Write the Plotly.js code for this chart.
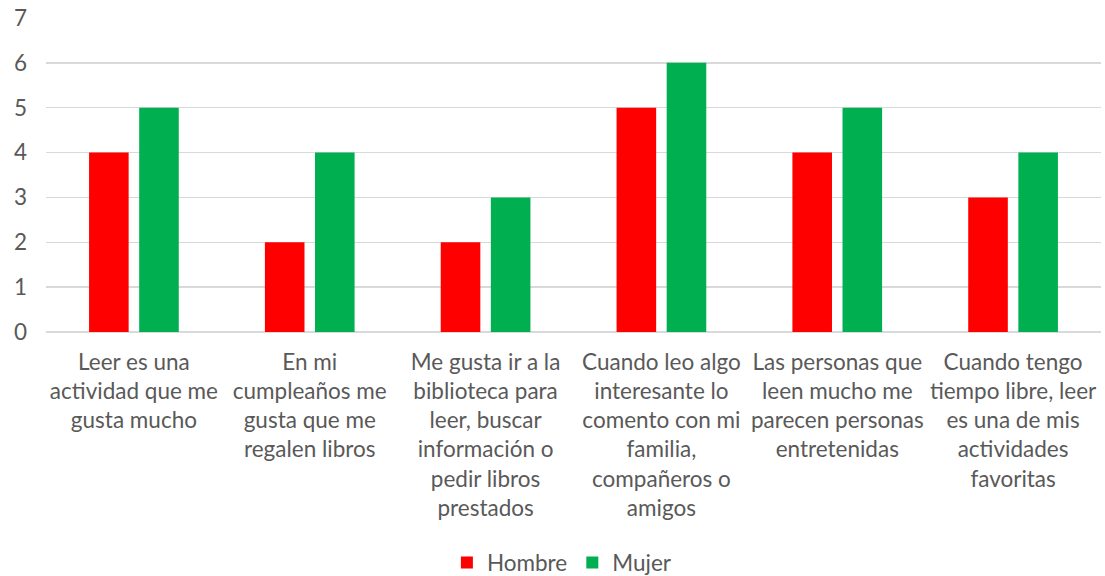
<!DOCTYPE html>
<html>
<head>
<meta charset="utf-8">
<script src="https://cdn.plot.ly/plotly-3.0.1.min.js"></script>
<style>html,body{margin:0;padding:0;background:#fff;overflow:hidden;}#chart{width:1105px;height:576px;}</style>
</head>
<body>
<div id="chart"></div>
<script>
var categories = [
  "Leer es una<br>actividad que me<br>gusta mucho",
  "En mi<br>cumpleaños me<br>gusta que me<br>regalen libros",
  "Me gusta ir a la<br>biblioteca para<br>leer, buscar<br>información o<br>pedir libros<br>prestados",
  "Cuando leo algo<br>interesante lo<br>comento con mi<br>familia,<br>compañeros o<br>amigos",
  "Las personas que<br>leen mucho me<br>parecen personas<br>entretenidas",
  "Cuando tengo<br>tiempo libre, leer<br>es una de mis<br>actividades<br>favoritas"
];
var hombre = [4, 2, 2, 5, 4, 3];
var mujer = [5, 4, 3, 6, 5, 4];
var yTicks = [0, 1, 2, 3, 4, 5, 6, 7];

var font = {family: "Lato, 'Open Sans', sans-serif", size: 22.5, color: "#595959"};

var data = [
  {type: "bar", name: "Hombre", x: categories, y: hombre, marker: {color: "#FF0000", line: {width: 0}}, hoverinfo: "y"},
  {type: "bar", name: "Mujer", x: categories, y: mujer, marker: {color: "#00B050", line: {width: 0}}, hoverinfo: "y"}
];

var layout = {
  width: 1105, height: 576,
  margin: {l: 46, r: 4, t: 18, b: 244, pad: 0},
  paper_bgcolor: "#ffffff", plot_bgcolor: "#ffffff",
  font: font,
  barmode: "group",
  bargap: 0.43,
  bargroupgap: 0.21,
  showlegend: true,
  legend: {orientation: "h", xref: "container", yref: "container",
           x: 0.5085, xanchor: "center", y: 0.0226, yanchor: "middle",
           font: font, itemwidth: 30, tracegroupgap: 0},
  xaxis: {type: "category", showgrid: false, zeroline: false, showline: false,
          ticks: "", tickfont: font, tickangle: 0, ticklabelstandoff: 14,
          automargin: false, fixedrange: true},
  yaxis: {range: [0, 7], tickvals: yTicks, ticktext: yTicks.map(String),
          showgrid: true, gridcolor: "#D9D9D9", gridwidth: 1.3,
          zeroline: true, zerolinecolor: "#D9D9D9", zerolinewidth: 1.3,
          showline: false, ticks: "", tickfont: font, ticklabelstandoff: 18,
          automargin: false, fixedrange: true}
};

Plotly.newPlot("chart", data, layout, {displayModeBar: false, staticPlot: true});
</script>
</body>
</html>
